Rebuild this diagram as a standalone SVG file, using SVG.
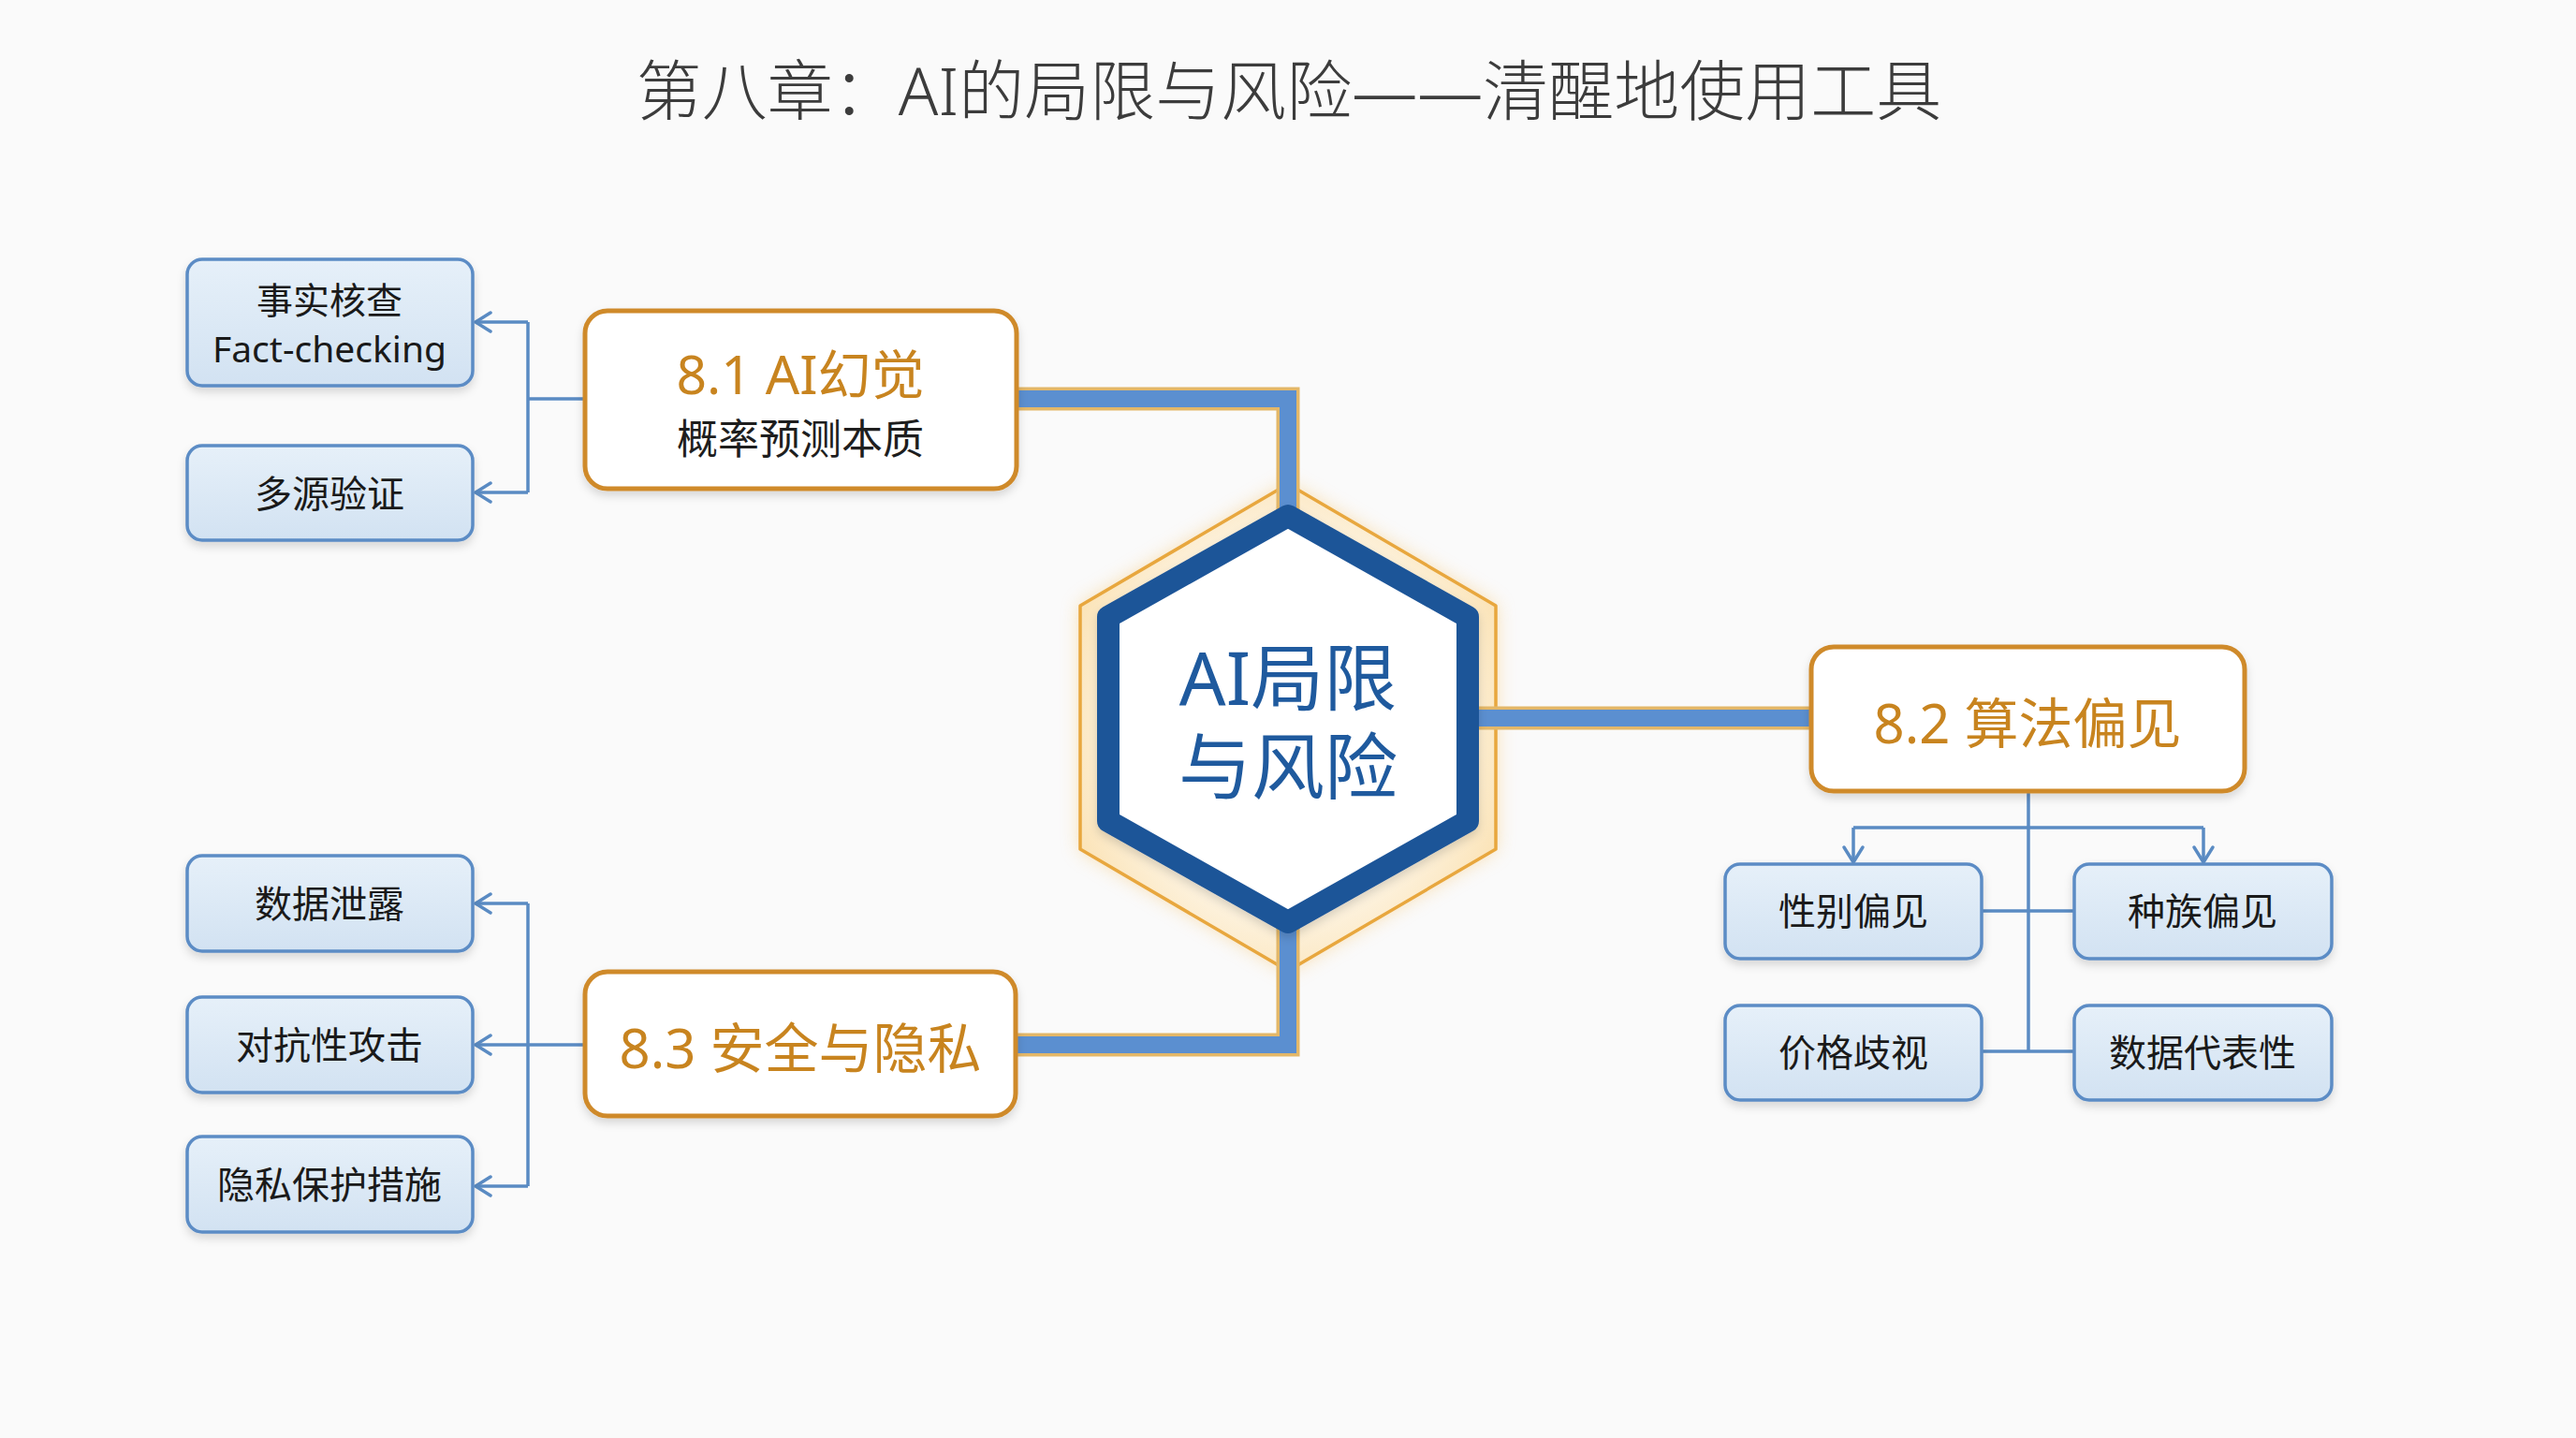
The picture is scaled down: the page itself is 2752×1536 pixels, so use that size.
<svg xmlns="http://www.w3.org/2000/svg" width="2752" height="1536" viewBox="0 0 2752 1536">
  <defs>
    <style>
      text { font-family: "Noto Sans", "Noto Sans CJK SC", sans-serif; text-anchor: middle; }
      .title { font-size: 70px; fill: #3c3c3c; font-weight: 300; }
      .topic { fill: #ffffff; stroke: #cf8a2b; stroke-width: 5; }
      .topic-t { font-size: 58px; fill: #c8841f; }
      .sub-t { font-size: 44px; fill: #1e1e1e; }
      .leaf { fill: url(#leafGrad); stroke: #5b8cc5; stroke-width: 3.5; }
      .leaf-t { font-size: 40px; fill: #1a1a1a; }
      .thin { fill: none; stroke: #5a8bc3; stroke-width: 3.5; }
      .arrow { fill: none; stroke: #5a8bc3; stroke-width: 3.5; marker-end: url(#chev); }
      .thick-edge { fill: none; stroke: #e3b768; stroke-width: 25; stroke-linejoin: miter; }
      .thick { fill: none; stroke: #5b8fd0; stroke-width: 18; stroke-linejoin: miter; }
      .hub-t { font-size: 78px; fill: #1f5a9e; font-weight: 400; }
    </style>
    <linearGradient id="leafGrad" x1="0" y1="0" x2="0" y2="1">
      <stop offset="0" stop-color="#e6f0f9"/>
      <stop offset="1" stop-color="#d2e2f2"/>
    </linearGradient>
    <radialGradient id="haloGrad" cx="0.5" cy="0.5" r="0.55">
      <stop offset="0.7" stop-color="#fdf3e0"/>
      <stop offset="1" stop-color="#fbe4b9"/>
    </radialGradient>
    <filter id="shadow" x="-10%" y="-15%" width="120%" height="140%">
      <feDropShadow dx="0" dy="5" stdDeviation="5" flood-color="#000000" flood-opacity="0.14"/>
    </filter>
    <filter id="glow" x="-20%" y="-20%" width="140%" height="140%">
      <feGaussianBlur stdDeviation="10"/>
    </filter>
    <marker id="chev" viewBox="-20 -14 24 28" markerWidth="24" markerHeight="28" refX="0" refY="0" orient="auto" markerUnits="userSpaceOnUse" overflow="visible">
      <path d="M-16,-10 L0,0 L-16,10" fill="none" stroke="#5a8bc3" stroke-width="3.5" stroke-linecap="round" stroke-linejoin="round"/>
    </marker>
  </defs>

  <rect x="0" y="0" width="2752" height="1536" fill="#fafafa"/>

  <text class="title" x="1377" y="123">第八章：AI的局限与风险——清醒地使用工具</text>

  <g id="hub-halo">
    <path d="M1376,517 L1598,647 L1598,907 L1376,1037 L1154,907 L1154,647 Z" fill="#f6c46e" opacity="0.55" filter="url(#glow)"/>
    <path d="M1376,517 L1598,647 L1598,907 L1376,1037 L1154,907 L1154,647 Z" fill="url(#haloGrad)" stroke="#e8a73e" stroke-width="3.5" stroke-linejoin="round"/>
  </g>

  <g id="connectors">
    <path class="thick-edge" d="M1080,426 H1376 V560"/>
    <path class="thick" d="M1080,426 H1376 V560"/>
    <path class="thick-edge" d="M1080,1116 H1376 V980"/>
    <path class="thick" d="M1080,1116 H1376 V980"/>
    <path class="thick-edge" d="M1560,767 H1940"/>
    <path class="thick" d="M1560,767 H1940"/>

    <path class="thin" d="M625,426 H564 M564,344 V526"/>
    <path class="arrow" d="M564,344 H508"/>
    <path class="arrow" d="M564,526 H508"/>

    <path class="thin" d="M564,965 V1267"/>
    <path class="arrow" d="M625,1116 H508"/>
    <path class="arrow" d="M564,965 H508"/>
    <path class="arrow" d="M564,1267 H508"/>

    <path class="thin" d="M2167,845 V1123 M1980,884 H2354 M2117,973 H2216 M2117,1123 H2216"/>
    <path class="arrow" d="M1980,884 V921"/>
    <path class="arrow" d="M2354,884 V921"/>
  </g>

  <g id="hub">
    <path d="M1376,551 L1568,659 L1568,877 L1376,985 L1184,877 L1184,659 Z" fill="#ffffff" stroke="#1e5598" stroke-width="24" stroke-linejoin="round" filter="url(#shadow)"/>
    <text class="hub-t" x="1376" y="753"><tspan x="1376" y="753">AI局限</tspan><tspan x="1376" y="848">与风险</tspan></text>
  </g>

  <g id="topic-8-1">
    <rect class="topic" x="625" y="332" width="461" height="190" rx="24" filter="url(#shadow)"/>
    <text class="topic-t" x="855" y="421" style="font-size:57px">8.1 AI幻觉</text>
    <text class="sub-t" x="855" y="485">概率预测本质</text>
  </g>

  <g id="topic-8-2">
    <rect class="topic" x="1935" y="691" width="463" height="154" rx="24" filter="url(#shadow)"/>
    <text class="topic-t" x="2166" y="794">8.2 算法偏见</text>
  </g>

  <g id="topic-8-3">
    <rect class="topic" x="625" y="1038" width="460" height="154" rx="24" filter="url(#shadow)"/>
    <text class="topic-t" x="855" y="1141">8.3 安全与隐私</text>
  </g>

  <g id="leaf-fact-checking">
    <rect class="leaf" x="200" y="277" width="305" height="135" rx="16" filter="url(#shadow)"/>
    <text class="leaf-t" x="352" y="335" style="font-size:39px">事实核查</text>
    <text class="leaf-t" x="352" y="387" style="font-size:39px">Fact-checking</text>
  </g>
  <g id="leaf-multi-source">
    <rect class="leaf" x="200" y="476" width="305" height="101" rx="16" filter="url(#shadow)"/>
    <text class="leaf-t" x="352" y="542">多源验证</text>
  </g>

  <g id="leaf-data-leak">
    <rect class="leaf" x="200" y="914" width="305" height="102" rx="16" filter="url(#shadow)"/>
    <text class="leaf-t" x="352" y="980">数据泄露</text>
  </g>
  <g id="leaf-adversarial">
    <rect class="leaf" x="200" y="1065" width="305" height="102" rx="16" filter="url(#shadow)"/>
    <text class="leaf-t" x="352" y="1131">对抗性攻击</text>
  </g>
  <g id="leaf-privacy">
    <rect class="leaf" x="200" y="1214" width="305" height="102" rx="16" filter="url(#shadow)"/>
    <text class="leaf-t" x="352" y="1280">隐私保护措施</text>
  </g>

  <g id="leaf-gender">
    <rect class="leaf" x="1843" y="923" width="274" height="101" rx="16" filter="url(#shadow)"/>
    <text class="leaf-t" x="1980" y="988">性别偏见</text>
  </g>
  <g id="leaf-race">
    <rect class="leaf" x="2216" y="923" width="275" height="101" rx="16" filter="url(#shadow)"/>
    <text class="leaf-t" x="2353" y="988">种族偏见</text>
  </g>
  <g id="leaf-price">
    <rect class="leaf" x="1843" y="1074" width="274" height="101" rx="16" filter="url(#shadow)"/>
    <text class="leaf-t" x="1980" y="1139">价格歧视</text>
  </g>
  <g id="leaf-representation">
    <rect class="leaf" x="2216" y="1074" width="275" height="101" rx="16" filter="url(#shadow)"/>
    <text class="leaf-t" x="2353" y="1139">数据代表性</text>
  </g>
</svg>
